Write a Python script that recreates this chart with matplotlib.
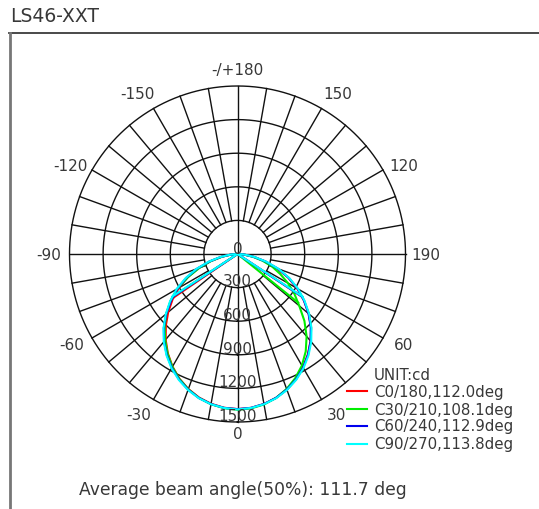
import numpy as np
import matplotlib
matplotlib.use("Agg")
import matplotlib.pyplot as plt
from matplotlib.lines import Line2D

# ---------------- data ----------------
title = "LS46-XXT"
unit_label = "UNIT:cd"
footer = "Average beam angle(50%): 111.7 deg"

gamma = [-90, -85, -80, -75, -70, -65, -60, -55, -50, -45, -40, -35, -30, -25, -20, -15, -10, -5,
         0, 5, 10, 15, 20, 25, 30, 35, 40, 45, 50, 55, 60, 65, 70, 75, 80, 85, 90]

c0 = [0, 60, 145, 255, 375, 492, 605, 708, 808, 905, 998, 1084, 1161, 1228, 1283, 1327, 1358, 1378,
      1385, 1379, 1360, 1330, 1288, 1235, 1170, 1095, 1015, 930, 830, 725, 615, 500, 375, 255, 150, 62, 0]
c30 = [0, 55, 140, 245, 360, 485, 620, 730, 830, 920, 1005, 1088, 1163, 1230, 1285, 1330, 1362, 1382,
       1390, 1384, 1364, 1330, 1282, 1222, 1150, 1062, 960, 845, 720, 620, 520, 420, 330, 230, 135, 55, 0]
c60 = [0, 62, 150, 260, 385, 505, 620, 725, 830, 930, 1020, 1100, 1173, 1236, 1289, 1331, 1361, 1379,
       1385, 1379, 1360, 1330, 1288, 1235, 1172, 1098, 1016, 925, 828, 725, 620, 505, 385, 260, 150, 62, 0]
c90 = [0, 64, 155, 268, 392, 512, 628, 735, 836, 934, 1024, 1105, 1178, 1240, 1292, 1333, 1362, 1380,
       1388, 1380, 1362, 1333, 1292, 1240, 1178, 1105, 1024, 934, 836, 732, 626, 512, 392, 268, 155, 64, 0]

series_names = ["C0/180,112.0deg", "C30/210,108.1deg", "C60/240,112.9deg", "C90/270,113.8deg"]
series_values = [c0, c30, c60, c90]
series_colors = ["#ff0000", "#00ee00", "#0000ee", "#00ffff"]

ring_values = [300, 600, 900, 1200, 1500]
ring_labels = ["0", "300", "600", "900", "1200", "1500"]
ring_label_values = [0, 300, 600, 900, 1200, 1500]
angle_ticks = [0, 30, 60, 90, 120, 150, 180, -150, -120, -90, -60, -30]
angle_labels = ["0", "30", "60", "190", "120", "150", "-/+180", "-150", "-120", "-90", "-60", "-30"]

# ---------------- figure ----------------
W, H = 539, 510
fig = plt.figure(figsize=(W / 100, H / 100), dpi=100)
txt_color = "#383838"
FONT = "DejaVu Sans"


def fx(x):
    return x / W


def fy(y):
    return 1 - y / H


# frame
fig.add_artist(Line2D([fx(9), fx(539)], [fy(34), fy(34)], color="#3a3a3a", lw=1.3))
fig.add_artist(Line2D([fx(10), fx(10)], [fy(34), fy(510)], color="#777777", lw=2.0))
fig.text(fx(10), fy(17), title, ha="left", va="center", fontsize=13.5, color=txt_color, family=FONT)

cx, cy, R = 237.5, 255, 168
ax = fig.add_axes([fx(cx - R), fy(cy + R), 2 * R / W, 2 * R / H], projection="polar")
ax.set_theta_zero_location("S")
ax.set_theta_direction(1)
rmax = ring_values[-1]
ax.set_ylim(0, rmax)
ax.grid(False)
ax.set_xticks([])
ax.set_yticks([])
ax.spines["polar"].set_visible(False)

gc = "#111111"
glw = 1.0
th_full = np.linspace(0, 2 * np.pi, 721)
for rv in ring_values:
    ax.plot(th_full, np.full_like(th_full, rv), color=gc, lw=glw, clip_on=False, zorder=1)
for a in range(0, 360, 10):
    t = np.deg2rad(a)
    r0 = 0 if a % 90 == 0 else ring_values[0]
    ax.plot([t, t], [r0, rmax], color=gc, lw=glw, clip_on=False, zorder=1)

# curves
g = np.deg2rad(np.array(gamma, dtype=float))
for vals, col in zip(series_values, series_colors):
    v = np.array(vals, dtype=float)
    ax.plot(g, v, color=col, lw=1.5, zorder=3, clip_on=False)
    # beam-angle (50%) chords from the centre to the half-intensity points
    half = v.max() / 2
    gd = np.array(gamma, dtype=float)
    right = gd >= 0
    left = gd <= 0
    gr = np.interp(-half, -v[right], gd[right])
    gl = np.interp(half, v[left], gd[left])
    ax.plot([np.deg2rad(gl), 0, np.deg2rad(gr)], [half, 0, half], color=col, lw=1.5, zorder=3)

# radial value labels
fs = 11
for lab, val in zip(ring_labels, ring_label_values):
    if val == 0:
        ax.text(np.pi, 45, lab, ha="center", va="center", fontsize=fs, color=txt_color, family=FONT, zorder=4)
    else:
        ax.text(0, val - 60, lab, ha="center", va="center", fontsize=fs, color=txt_color, family=FONT, zorder=4)

# angle labels
for a, lab in zip(angle_ticks, angle_labels):
    aa = abs(a)
    if aa == 0:
        r = 1605
        off = 0
    elif aa == 180:
        r = 1650
        off = 0
    else:
        r = 1685
        off = 1.5 if aa < 90 else (-2.0 if aa > 90 else 0)
    ang = np.sign(a) * (aa + off) if a != 0 else 0
    ax.text(np.deg2rad(ang), r, lab, ha="center", va="center", fontsize=fs, color=txt_color,
            family=FONT, clip_on=False)

# legend
lfs = 10.8
fig.text(fx(374), fy(375), unit_label, ha="left", va="center", fontsize=lfs, color=txt_color, family=FONT)
ys = [392, 410, 427, 445]
for name, col, yy in zip(series_names, series_colors, ys):
    fig.add_artist(Line2D([fx(347), fx(367)], [fy(yy), fy(yy)], color=col, lw=1.5))
    fig.text(fx(374), fy(yy), name, ha="left", va="center", fontsize=lfs, color=txt_color, family=FONT)

fig.text(fx(79), fy(490), footer, ha="left", va="center", fontsize=12.3, color=txt_color, family=FONT)

fig.savefig("out.png", dpi=100)
